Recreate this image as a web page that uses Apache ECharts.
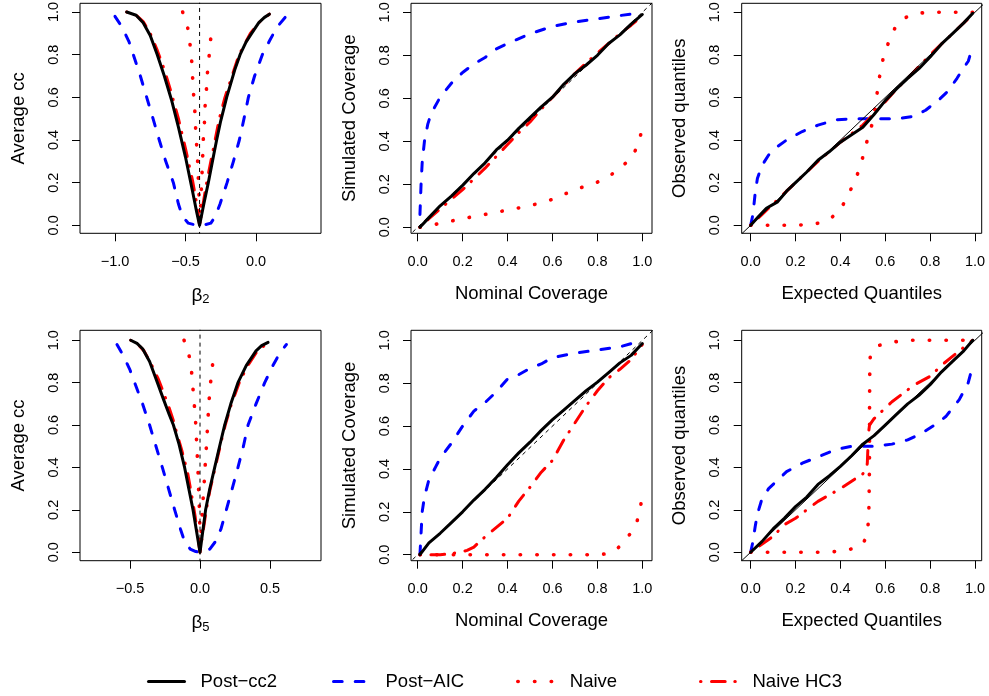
<!DOCTYPE html>
<html><head><meta charset="utf-8">
<script src="https://cdn.jsdelivr.net/npm/echarts@6/dist/echarts.min.js"></script>
<style>html,body{margin:0;padding:0;background:#fff}#c{width:989px;height:696px}</style>
</head><body><div id="c"></div>
<script>
// ---------- names & ticks ----------
const seriesNames = ['Post\u2212cc2', 'Post\u2212AIC', 'Naive', 'Naive HC3'];
const unitTicks = [0, 0.2, 0.4, 0.6, 0.8, 1.0];
const beta2Ticks = [-1.0, -0.5, 0.0];
const beta5Ticks = [-0.5, 0.0, 0.5];
const trueBeta = [-0.4, 0.0];

// ---------- panel 1: average cc vs beta2 ----------
const b2_cc2 = [[-0.917,1.0],[-0.85,0.985],[-0.80,0.95],[-0.75,0.89],[-0.70,0.80],[-0.65,0.70],[-0.60,0.59],[-0.55,0.46],[-0.50,0.32],[-0.45,0.16],[-0.42,0.06],[-0.40,0.0],[-0.37,0.1],[-0.338,0.2],[-0.30,0.33],[-0.279,0.4],[-0.25,0.49],[-0.208,0.6],[-0.15,0.73],[-0.113,0.8],[-0.07,0.86],[-0.031,0.9],[0.02,0.95],[0.06,0.975],[0.095,0.99]];
const b2_aic = [[-1.0,0.98],[-0.95,0.93],[-0.90,0.86],[-0.87,0.80],[-0.82,0.70],[-0.775,0.6],[-0.73,0.5],[-0.686,0.4],[-0.64,0.3],[-0.586,0.2],[-0.55,0.1],[-0.52,0.04],[-0.48,0.01],[-0.44,0.003],[-0.40,0.0],[-0.36,0.003],[-0.32,0.01],[-0.29,0.04],[-0.255,0.1],[-0.205,0.2],[-0.16,0.3],[-0.118,0.4],[-0.085,0.5],[-0.054,0.6],[-0.01,0.7],[0.045,0.8],[0.10,0.87],[0.15,0.93],[0.213,0.98]];
const b2_naive = [[-0.52,1.0],[-0.485,0.93],[-0.468,0.85],[-0.456,0.77],[-0.449,0.69],[-0.442,0.61],[-0.433,0.53],[-0.428,0.455],[-0.421,0.38],[-0.414,0.30],[-0.409,0.22],[-0.404,0.14],[-0.401,0.06],[-0.40,0.0],[-0.392,0.08],[-0.388,0.16],[-0.383,0.24],[-0.378,0.32],[-0.374,0.40],[-0.366,0.475],[-0.362,0.55],[-0.352,0.63],[-0.345,0.71],[-0.333,0.79],[-0.322,0.87],[-0.307,0.944]];
const b2_hc3 = [[-0.917,1.0],[-0.85,0.985],[-0.80,0.955],[-0.75,0.90],[-0.70,0.82],[-0.65,0.73],[-0.60,0.62],[-0.55,0.50],[-0.50,0.36],[-0.45,0.21],[-0.42,0.10],[-0.40,0.0],[-0.38,0.08],[-0.35,0.2],[-0.32,0.3],[-0.29,0.4],[-0.26,0.5],[-0.22,0.6],[-0.17,0.7],[-0.12,0.8],[-0.04,0.9],[0.02,0.95],[0.095,0.99]];

// ---------- panel 2: simulated vs nominal coverage (beta2) ----------
const cov2_cc2 = [[0.01,0.0],[0.05,0.045],[0.1,0.1],[0.15,0.145],[0.2,0.195],[0.25,0.25],[0.3,0.3],[0.35,0.36],[0.4,0.405],[0.45,0.46],[0.5,0.51],[0.55,0.56],[0.6,0.605],[0.65,0.665],[0.7,0.715],[0.75,0.755],[0.8,0.8],[0.85,0.855],[0.9,0.895],[0.95,0.945],[1.0,0.99]];
const cov2_aic = [[0.01,0.06],[0.015,0.2],[0.02,0.3],[0.03,0.4],[0.045,0.48],[0.06,0.53],[0.1,0.605],[0.15,0.67],[0.2,0.72],[0.25,0.76],[0.3,0.79],[0.35,0.83],[0.4,0.855],[0.5,0.9],[0.6,0.935],[0.7,0.955],[0.8,0.97],[0.9,0.985],[1.0,0.998]];
const cov2_naive = [[0.01,0.0],[0.05,0.008],[0.1,0.018],[0.2,0.04],[0.3,0.06],[0.4,0.08],[0.5,0.1],[0.6,0.13],[0.7,0.175],[0.8,0.21],[0.85,0.235],[0.9,0.275],[0.95,0.32],[0.98,0.38],[1.0,0.46]];
const cov2_hc3 = [[0.01,0.0],[0.05,0.04],[0.1,0.085],[0.15,0.13],[0.2,0.175],[0.25,0.225],[0.3,0.275],[0.35,0.33],[0.4,0.385],[0.45,0.44],[0.5,0.49],[0.55,0.55],[0.6,0.605],[0.65,0.66],[0.7,0.715],[0.75,0.765],[0.8,0.81],[0.85,0.855],[0.9,0.9],[0.95,0.94],[1.0,0.985]];

// ---------- panel 3: observed vs expected quantiles (beta2) ----------
const q2_cc2 = [[0,0],[0.03,0.035],[0.07,0.08],[0.12,0.11],[0.16,0.16],[0.2,0.2],[0.25,0.25],[0.3,0.305],[0.35,0.345],[0.4,0.39],[0.45,0.425],[0.5,0.46],[0.55,0.52],[0.6,0.585],[0.65,0.64],[0.7,0.69],[0.75,0.735],[0.8,0.79],[0.85,0.85],[0.9,0.9],[0.95,0.95],[0.99,0.995]];
const q2_aic = [[0,0],[0.01,0.05],[0.02,0.15],[0.03,0.22],[0.05,0.28],[0.08,0.33],[0.12,0.37],[0.16,0.4],[0.23,0.44],[0.3,0.47],[0.38,0.495],[0.45,0.5],[0.55,0.5],[0.65,0.5],[0.72,0.51],[0.78,0.54],[0.84,0.59],[0.88,0.63],[0.92,0.69],[0.95,0.74],[0.97,0.77],[0.99,0.84]];
const q2_naive = [[0,0],[0.1,0],[0.2,0],[0.28,0.005],[0.32,0.015],[0.36,0.035],[0.4,0.075],[0.43,0.13],[0.46,0.2],[0.48,0.25],[0.5,0.32],[0.52,0.4],[0.54,0.47],[0.555,0.55],[0.565,0.63],[0.575,0.7],[0.59,0.78],[0.615,0.86],[0.645,0.93],[0.69,0.975],[0.74,0.995],[0.8,1],[0.9,1],[0.99,1]];
const q2_hc3 = [[0,0],[0.05,0.05],[0.1,0.1],[0.15,0.15],[0.2,0.2],[0.25,0.25],[0.3,0.3],[0.35,0.345],[0.4,0.39],[0.45,0.43],[0.5,0.47],[0.55,0.525],[0.6,0.58],[0.65,0.64],[0.7,0.69],[0.75,0.745],[0.8,0.8],[0.85,0.85],[0.9,0.9],[0.95,0.95],[0.99,0.99]];

// ---------- panel 4: average cc vs beta5 ----------
const b5_cc2 = [[-0.495,1.0],[-0.45,0.985],[-0.41,0.96],[-0.36,0.9],[-0.31,0.81],[-0.26,0.72],[-0.22,0.65],[-0.19,0.6],[-0.15,0.51],[-0.11,0.4],[-0.08,0.3],[-0.05,0.2],[-0.025,0.1],[0,0],[0.02,0.1],[0.04,0.2],[0.07,0.3],[0.105,0.4],[0.14,0.5],[0.176,0.6],[0.22,0.7],[0.271,0.8],[0.33,0.88],[0.40,0.95],[0.44,0.975],[0.486,0.99]];
const b5_aic = [[-0.593,0.98],[-0.55,0.93],[-0.5,0.86],[-0.467,0.8],[-0.41,0.7],[-0.36,0.6],[-0.31,0.49],[-0.269,0.4],[-0.225,0.3],[-0.181,0.2],[-0.14,0.11],[-0.11,0.05],[-0.07,0.015],[-0.03,0.003],[0,0],[0.03,0.003],[0.07,0.015],[0.11,0.05],[0.15,0.11],[0.188,0.2],[0.23,0.3],[0.271,0.4],[0.31,0.5],[0.343,0.6],[0.40,0.7],[0.462,0.8],[0.52,0.88],[0.57,0.94],[0.617,0.98]];
const b5_naive = [[-0.114,1.0],[-0.085,0.95],[-0.07,0.9],[-0.06,0.85],[-0.05,0.77],[-0.04,0.69],[-0.031,0.61],[-0.025,0.53],[-0.019,0.45],[-0.014,0.375],[-0.01,0.295],[-0.005,0.215],[-0.002,0.14],[0,0.05],[0,0],[0.007,0.08],[0.014,0.16],[0.021,0.24],[0.029,0.32],[0.036,0.4],[0.043,0.47],[0.05,0.55],[0.057,0.63],[0.064,0.71],[0.074,0.79],[0.086,0.87],[0.105,0.945]];
const b5_hc3 = [[-0.495,1.0],[-0.45,0.985],[-0.40,0.95],[-0.35,0.89],[-0.30,0.82],[-0.27,0.77],[-0.23,0.7],[-0.19,0.62],[-0.165,0.56],[-0.13,0.48],[-0.09,0.38],[-0.06,0.27],[-0.035,0.17],[-0.015,0.07],[0,0],[0.02,0.09],[0.04,0.18],[0.07,0.29],[0.105,0.39],[0.14,0.49],[0.18,0.6],[0.225,0.7],[0.28,0.8],[0.34,0.88],[0.40,0.94],[0.45,0.97],[0.49,0.985]];

// ---------- panel 5: simulated vs nominal coverage (beta5) ----------
const cov5_cc2 = [[0.01,0],[0.05,0.055],[0.1,0.1],[0.15,0.15],[0.2,0.2],[0.25,0.255],[0.3,0.305],[0.35,0.36],[0.4,0.42],[0.45,0.475],[0.5,0.525],[0.55,0.58],[0.6,0.63],[0.65,0.675],[0.7,0.72],[0.75,0.765],[0.8,0.805],[0.85,0.85],[0.9,0.895],[0.95,0.93],[1.0,0.985]];
const cov5_aic = [[0.01,0.0],[0.015,0.1],[0.02,0.2],[0.03,0.27],[0.05,0.35],[0.08,0.41],[0.1,0.45],[0.15,0.52],[0.2,0.6],[0.25,0.67],[0.3,0.71],[0.35,0.76],[0.4,0.82],[0.45,0.84],[0.5,0.87],[0.55,0.89],[0.6,0.92],[0.7,0.94],[0.8,0.955],[0.9,0.97],[1.0,1.0]];
const cov5_naive = [[0.01,0],[0.5,0],[0.8,0],[0.85,0.005],[0.88,0.02],[0.91,0.05],[0.94,0.09],[0.96,0.115],[0.975,0.15],[0.985,0.19],[1.0,0.27]];
const cov5_hc3 = [[0.01,0],[0.05,0],[0.1,0],[0.15,0.005],[0.19,0.012],[0.22,0.02],[0.25,0.035],[0.28,0.065],[0.33,0.11],[0.4,0.17],[0.45,0.25],[0.5,0.315],[0.55,0.385],[0.6,0.44],[0.65,0.535],[0.7,0.615],[0.75,0.695],[0.8,0.765],[0.85,0.825],[0.9,0.865],[0.95,0.91],[1.0,0.98]];

// ---------- panel 6: observed vs expected quantiles (beta5) ----------
const q5_cc2 = [[0,0],[0.05,0.05],[0.1,0.11],[0.15,0.16],[0.2,0.215],[0.25,0.26],[0.3,0.32],[0.35,0.36],[0.4,0.405],[0.45,0.455],[0.5,0.51],[0.55,0.55],[0.6,0.6],[0.65,0.65],[0.7,0.7],[0.75,0.74],[0.8,0.79],[0.85,0.85],[0.9,0.9],[0.95,0.95],[0.99,1.0]];
const q5_aic = [[0,0],[0.01,0.05],[0.02,0.12],[0.03,0.18],[0.05,0.25],[0.08,0.3],[0.12,0.34],[0.16,0.38],[0.23,0.42],[0.3,0.45],[0.38,0.485],[0.45,0.5],[0.55,0.5],[0.63,0.51],[0.7,0.53],[0.76,0.56],[0.82,0.6],[0.87,0.64],[0.9,0.68],[0.93,0.72],[0.95,0.76],[0.97,0.8],[0.985,0.86],[0.99,0.89]];
const q5_naive = [[0,0],[0.1,0],[0.2,0],[0.3,0],[0.38,0.003],[0.43,0.01],[0.47,0.022],[0.5,0.04],[0.515,0.07],[0.523,0.12],[0.527,0.2],[0.529,0.35],[0.53,0.5],[0.53,0.7],[0.531,0.85],[0.533,0.92],[0.545,0.955],[0.57,0.975],[0.62,0.99],[0.7,1.0],[0.99,1.0]];
const q5_hc3 = [[0,0],[0.04,0.03],[0.1,0.075],[0.15,0.13],[0.2,0.16],[0.25,0.2],[0.3,0.24],[0.35,0.27],[0.4,0.3],[0.45,0.335],[0.5,0.37],[0.515,0.39],[0.52,0.42],[0.523,0.5],[0.525,0.56],[0.53,0.6],[0.55,0.63],[0.58,0.66],[0.63,0.71],[0.68,0.75],[0.73,0.79],[0.8,0.83],[0.86,0.89],[0.93,0.95],[0.99,1.0]];

// reference diagonal (y = x)
const diagLine = [[-0.1,-0.1],[1.1,1.1]];

// ---------- build chart ----------
const FONT = '"Liberation Sans", Arial, Helvetica, sans-serif';
const panels = [
  {grid:{left:80,top:3.3,width:241,height:230}, x:[-1.248,0.461], y:[-0.0375,1.041], xt:beta2Ticks, xname:'{b|\u03b2}{s|2}', yname:'Average cc', data:[b2_cc2,b2_aic,b2_naive,b2_hc3], kind:'beta', vline:trueBeta[0]},
  {grid:{left:411,top:3.3,width:241,height:230}, x:[-0.0298,1.043], y:[-0.028,1.042], xt:unitTicks, xname:'Nominal Coverage', yname:'Simulated Coverage', data:[cov2_cc2,cov2_aic,cov2_naive,cov2_hc3], kind:'cov'},
  {grid:{left:741.7,top:3.3,width:240,height:230}, x:[-0.040,1.030], y:[-0.0376,1.042], xt:unitTicks, xname:'Expected Quantiles', yname:'Observed quantiles', data:[q2_cc2,q2_aic,q2_naive,q2_hc3], kind:'qq'},
  {grid:{left:80,top:330.3,width:241,height:230.4}, x:[-0.857,0.864], y:[-0.04,1.047], xt:beta5Ticks, xname:'{b|\u03b2}{s|5}', yname:'Average cc', data:[b5_cc2,b5_aic,b5_naive,b5_hc3], kind:'beta', vline:trueBeta[1]},
  {grid:{left:411,top:330.3,width:241,height:230.4}, x:[-0.0298,1.043], y:[-0.028,1.047], xt:unitTicks, xname:'Nominal Coverage', yname:'Simulated Coverage', data:[cov5_cc2,cov5_aic,cov5_naive,cov5_hc3], kind:'cov'},
  {grid:{left:741.7,top:330.3,width:240,height:230.4}, x:[-0.040,1.030], y:[-0.04,1.047], xt:unitTicks, xname:'Expected Quantiles', yname:'Observed quantiles', data:[q5_cc2,q5_aic,q5_naive,q5_hc3], kind:'qq'}
];

const lineStyles = [
  {color:'#000000', width:3, type:'solid', cap:'round', join:'round'},
  {color:'#0000ff', width:3, type:[8.7,13], cap:'round', join:'round'},
  {color:'#ff0000', width:3.6, type:[0.4,16.3], cap:'round', join:'round'},
  {color:'#ff0000', width:3, type:[0.5,10.5,13.7,9.6], cap:'round', join:'round'}
];
const drawOrder = [1, 2, 3, 0];
const zOf = {0: 6, 1: 3, 2: 4, 3: 5};

const fmt = v => v.toFixed(1).replace('-', '\u2212');

const grids = [], xAxes = [], yAxes = [], series = [];
panels.forEach((p, i) => {
  grids.push(Object.assign({show:true, borderColor:'#000', borderWidth:1, backgroundColor:'transparent', containLabel:false, outerBoundsMode:'none'}, p.grid));
  xAxes.push({
    type:'value', gridIndex:i, min:p.x[0], max:p.x[1], position:'bottom',
    axisLine:{show:false, onZero:false}, splitLine:{show:false},
    axisTick:{show:true, customValues:p.xt, length:8, lineStyle:{color:'#000', width:1}},
    axisLabel:{show:true, customValues:p.xt, formatter:fmt, margin:21, color:'#000', fontSize:14.5, fontFamily:FONT},
    name:p.xname, nameLocation:'middle', nameGap:51, nameMoveOverlap:false,
    nameTextStyle:{color:'#000', fontSize:18.5, fontFamily:FONT,
      rich:{b:{fontSize:19, fontFamily:FONT, color:'#000'}, s:{fontSize:13, fontFamily:FONT, color:'#000', padding:[9,0,0,0]}}}
  });
  yAxes.push({
    type:'value', gridIndex:i, min:p.y[0], max:p.y[1], position:'left',
    axisLine:{show:false, onZero:false}, splitLine:{show:false},
    axisTick:{show:true, customValues:unitTicks, length:8, lineStyle:{color:'#000', width:1}},
    axisLabel:{show:true, customValues:unitTicks, formatter:fmt, rotate:90, margin:19, color:'#000', fontSize:14.5, fontFamily:FONT},
    name:p.yname, nameLocation:'middle', nameGap:52, nameMoveOverlap:false,
    nameTextStyle:{color:'#000', fontSize:18.5, fontFamily:FONT}
  });
  drawOrder.forEach(k => {
    series.push({
      type:'line', name:seriesNames[k], xAxisIndex:i, yAxisIndex:i,
      data:p.data[k], symbol:'none', showSymbol:false, smooth:false, clip:true,
      lineStyle:lineStyles[k], itemStyle:{color:lineStyles[k].color},
      z:zOf[k], silent:true, animation:false
    });
  });
  if (p.kind === 'beta') {
    series.push({type:'line', xAxisIndex:i, yAxisIndex:i, symbol:'none', clip:true, silent:true, animation:false, z:7,
      data:[[p.vline,-0.2],[p.vline,1.2]], lineStyle:{color:'#000', width:1, type:[4,4]}});
  } else {
    series.push({type:'line', xAxisIndex:i, yAxisIndex:i, symbol:'none', clip:true, silent:true, animation:false, z:7,
      data:diagLine, lineStyle:{color:'#000', width:1, type: p.kind === 'cov' ? [4,4] : 'solid'}});
  }
});

const legendLefts = [147, 332, 516, 699];
const legends = seriesNames.map((n, k) => ({
  data:[n], left:legendLefts[k], top:672, orient:'horizontal', padding:0,
  itemWidth:36, itemHeight:14, selectedMode:false,
  itemStyle:{color:'rgba(0,0,0,0)', borderColor:'rgba(0,0,0,0)', borderWidth:0, opacity:0},
  lineStyle:{width:'inherit', type:'inherit', cap:'round'},
  textStyle:{color:'#000', fontSize:18.5, fontFamily:FONT, padding:[0,0,0,11]}
}));

const chart = echarts.init(document.getElementById('c'), null, {renderer:'canvas'});
chart.setOption({
  animation:false,
  backgroundColor:'#fff',
  textStyle:{fontFamily:FONT},
  grid:grids, xAxis:xAxes, yAxis:yAxes, series:series, legend:legends
});
</script></body></html>
